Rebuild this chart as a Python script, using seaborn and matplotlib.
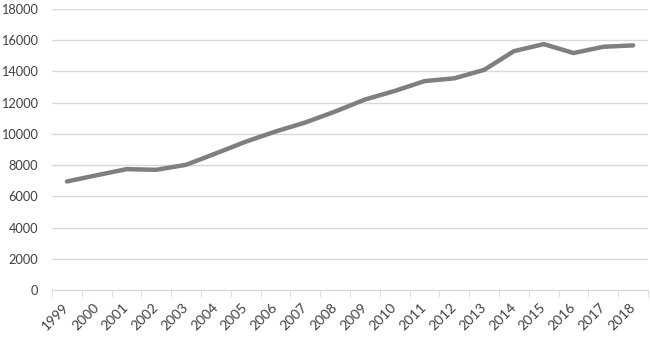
import matplotlib
matplotlib.use('Agg')
import matplotlib.pyplot as plt
import numpy as np
import pandas as pd
import seaborn as sns

years = ['1999', '2000', '2001', '2002', '2003', '2004', '2005', '2006', '2007', '2008',
         '2009', '2010', '2011', '2012', '2013', '2014', '2015', '2016', '2017', '2018']
values = [6950, 7350, 7740, 7700, 8020, 8750, 9500, 10150, 10730, 11430,
          12200, 12750, 13380, 13560, 14100, 15300, 15750, 15180, 15580, 15670]

sns.set_style('white')
plt.rcParams['font.family'] = ['Lato', 'DejaVu Sans']

df = pd.DataFrame({'year': years, 'value': values})

fig = plt.figure(figsize=(6.5, 3.41), dpi=100)
ax = fig.add_axes([0.08, 0.1496, 0.917, 0.824])

sns.lineplot(data=df, x='year', y='value', ax=ax, color='#7f7f7f', linewidth=3.2)

ax.set_xlim(-0.5, len(years) - 0.5)
ax.set_ylim(0, 18000)
ax.set_yticks(np.arange(0, 18001, 2000))
ax.yaxis.grid(True, color='#d9d9d9', linewidth=1)
ax.set_axisbelow(True)

for s in ['top', 'right', 'left']:
    ax.spines[s].set_visible(False)
ax.spines['bottom'].set_color('#d9d9d9')

# tick marks on category boundaries, labels in the middle
ax.set_xticks(np.arange(-0.5, len(years), 1.0), minor=True)
ax.tick_params(axis='x', which='minor', length=5, color='#d9d9d9', direction='out', bottom=True)
ax.tick_params(axis='x', which='major', length=0, pad=11)
ax.tick_params(axis='y', length=0, pad=10)
plt.setp(ax.get_xticklabels(), rotation=45, ha='right', va='center', rotation_mode='anchor',
         fontsize=10, color='#404040')
plt.setp(ax.get_yticklabels(), fontsize=9.2, color='#404040')

ax.set_xlabel('')
ax.set_ylabel('')

fig.savefig('out.png', dpi=100)
